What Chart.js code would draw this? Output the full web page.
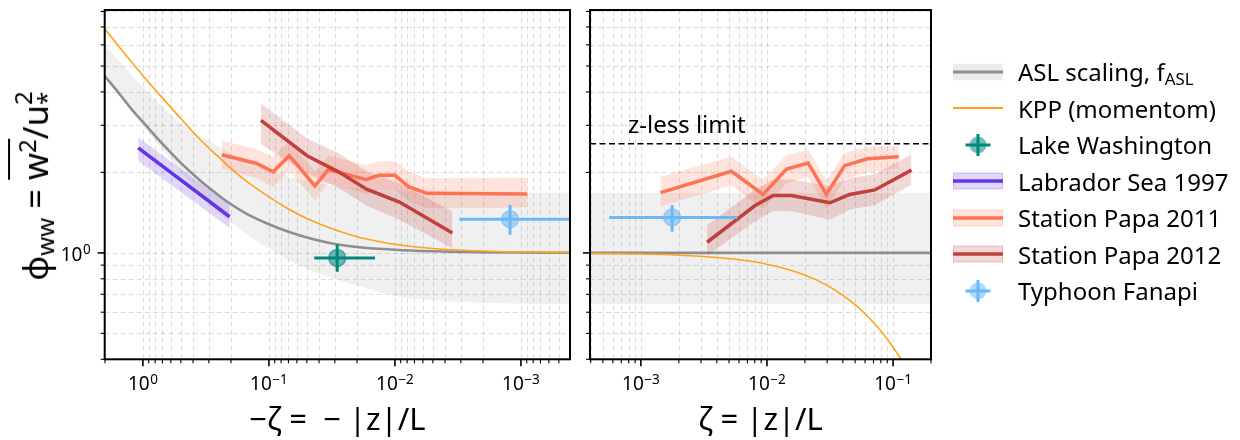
<!DOCTYPE html>
<html><head><meta charset="utf-8">
<script src="https://cdn.jsdelivr.net/npm/chart.js@4.4.1/dist/chart.umd.min.js"></script>
<style>
html,body{margin:0;padding:0;background:#fff;}
body{width:1240px;height:440px;position:relative;overflow:hidden;font-family:'Noto Sans','Open Sans',sans-serif;color:#000;}
#cL,#cR{position:absolute;top:0;}
#cL{left:0;} #cR{left:575px;}
#ylab{position:absolute;left:35px;top:186px;transform:translate(-50%,-50%) rotate(-90deg);font-size:34.5px;white-space:nowrap;line-height:1.2;z-index:2;}
#ylab sub,#ylab sup{font-size:0.7em;line-height:0;}
#ylab sub{vertical-align:-0.28em;}
#ylab sup{vertical-align:0.5em;}
.ov{border-top:2px solid #000;padding-top:1px;}
.st{display:inline-flex;flex-direction:column;font-size:0.7em;line-height:0.95;vertical-align:0.65em;}
#legend{position:absolute;left:952px;top:0;width:288px;height:440px;z-index:2;}
.row{position:absolute;left:0;height:36px;display:flex;align-items:center;white-space:nowrap;font-size:24px;}
.row canvas{display:block;margin-right:14px;}
.row sub{font-size:0.7em;vertical-align:-0.25em;line-height:0;}
</style></head>
<body>
<canvas id="cL" width="585" height="440"></canvas>
<canvas id="cR" width="370" height="440"></canvas>
<div id="ylab">ϕ<sub>ww</sub> = <span class="ov">w<sup>2</sup></span>/u<span class="st"><span>2</span><span>*</span></span></div>
<div id="legend"></div>
<script>
// ================= DATA =================
// left panel: unstable side, x = -zeta
const leftZeta      = [2.01, 1.5, 1.2, 1, 0.85, 0.7, 0.5, 0.35, 0.25, 0.2, 0.15, 0.1, 0.07, 0.05, 0.03, 0.02, 0.01, 0.005, 0.002, 0.001, 0.0004];
const aslLeft       = [4.59, 3.88, 3.40, 3.09, 2.83, 2.56, 2.17, 1.86, 1.64, 1.52, 1.40, 1.28, 1.20, 1.143, 1.08, 1.052, 1.027, 1.014, 1.006, 1.003, 1.001];
const aslLeftUpper  = [6.02, 5.14, 4.56, 4.17, 3.85, 3.52, 3.05, 2.74, 2.50, 2.36, 2.20, 2.03, 1.93, 1.85, 1.78, 1.75, 1.712, 1.696, 1.686, 1.683, 1.68];
const aslLeftLower  = [4.55, 3.83, 3.34, 2.99, 2.72, 2.43, 2.01, 1.66, 1.41, 1.31, 1.17, 1.04, 0.94, 0.87, 0.80, 0.755, 0.69, 0.665, 0.651, 0.646, 0.643];
const kppLeft       = [6.89, 5.80, 5.10, 4.60, 4.22, 3.80, 3.18, 2.65, 2.28, 2.07, 1.85, 1.62, 1.46, 1.345, 1.22, 1.15, 1.077, 1.039, 1.016, 1.008, 1.003];

const labradorZeta  = [1.09, 0.205];
const labradorPhi   = [2.47, 1.365];
const labradorUpper = [2.71, 1.51];
const labradorLower = [2.21, 1.24];

const papa11LeftZeta  = [0.237, 0.125, 0.0925, 0.069, 0.0431, 0.0338, 0.0168, 0.0135, 0.0100, 0.0078, 0.0056, 0.00089];
const papa11LeftPhi   = [2.33, 2.16, 2.01, 2.31, 1.78, 2.05, 1.88, 1.95, 1.95, 1.77, 1.67, 1.66];
const papa11LeftUpper = [2.63, 2.44, 2.28, 2.62, 2.02, 2.31, 2.13, 2.20, 2.20, 2.01, 1.90, 1.91];
const papa11LeftLower = [2.07, 1.90, 1.76, 2.03, 1.57, 1.82, 1.66, 1.72, 1.72, 1.56, 1.47, 1.48];

const papa12LeftZeta  = [0.1157, 0.0498, 0.028, 0.0168, 0.0092, 0.0035];
const papa12LeftPhi   = [3.13, 2.31, 2.01, 1.73, 1.55, 1.186];
const papa12LeftUpper = [3.62, 2.68, 2.36, 2.02, 1.82, 1.43];
const papa12LeftLower = [2.55, 1.98, 1.75, 1.50, 1.33, 1.04];

const lakeZeta    = [0.0287];
const lakePhi     = [0.958];
const lakeZetaErr = [0.0144, 0.0437];
const lakePhiErr  = [0.85, 1.074];

const fanapiLeftZeta    = [0.00122];
const fanapiLeftPhi     = [1.337];
const fanapiLeftZetaErr = [0.00030, 0.00309];
const fanapiLeftPhiErr  = [1.17, 1.51];

// right panel: stable side, x = zeta
const aslRightZeta  = [3.95e-4, 0.2];
const aslRight      = [1, 1];
const aslRightUpper = [1.68, 1.68];
const aslRightLower = [0.643, 0.643];
const zlessZeta     = [3.95e-4, 0.2];
const zlessPhi      = [2.56, 2.56];

const kppRightZeta = [3.95e-4, 1e-3, 2e-3, 4e-3, 7e-3, 0.01, 0.015, 0.02, 0.03, 0.04, 0.05, 0.06, 0.07, 0.085, 0.1, 0.12];
const kppRight     = [0.996, 0.990, 0.980, 0.961, 0.934, 0.907, 0.865, 0.826, 0.756, 0.694, 0.640, 0.592, 0.549, 0.493, 0.444, 0.391];

const papa11RightZeta  = [1.43e-3, 5.23e-3, 9.31e-3, 0.0143, 0.0212, 0.0296, 0.0413, 0.0625, 0.111];
const papa11RightPhi   = [1.68, 2.02, 1.655, 2.06, 2.17, 1.655, 2.12, 2.25, 2.29];
const papa11RightUpper = [1.93, 2.29, 1.88, 2.32, 2.43, 1.87, 2.37, 2.49, 2.51];
const papa11RightLower = [1.49, 1.79, 1.46, 1.82, 1.92, 1.46, 1.88, 2.00, 2.07];

const papa12RightZeta  = [3.35e-3, 8.0e-3, 0.0112, 0.0156, 0.0316, 0.0453, 0.0716, 0.140];
const papa12RightPhi   = [1.096, 1.50, 1.64, 1.64, 1.54, 1.655, 1.72, 2.04];
const papa12RightUpper = [1.27, 1.72, 1.88, 1.88, 1.78, 1.90, 1.97, 2.34];
const papa12RightLower = [0.975, 1.31, 1.43, 1.43, 1.33, 1.45, 1.51, 1.80];

const fanapiRightZeta    = [0.00177];
const fanapiRightPhi     = [1.356];
const fanapiRightZetaErr = [0.00056, 0.00584];
const fanapiRightPhiErr  = [1.20, 1.51];

// ticks (labels written as base^exponent)
const leftTickValues  = [1, 0.1, 0.01, 0.001];
const leftTickLabels  = ['10^0', '10^−1', '10^−2', '10^−3'];
const rightTickValues = [0.001, 0.01, 0.1];
const rightTickLabels = ['10^−3', '10^−2', '10^−1'];
const yTickValues     = [1];
const yTickLabels     = ['10^0'];

const zlessText = 'z-less limit';
const zlessTextAt = [7.9e-4, 2.80];

const legendLabels = ['ASL scaling, f<sub>ASL</sub>', 'KPP (momentom)', 'Lake Washington', 'Labrador Sea 1997', 'Station Papa 2011', 'Station Papa 2012', 'Typhoon Fanapi'];

// ================= STYLE =================
const FONT = "'Noto Sans', 'Open Sans', sans-serif";
const C = {
  asl: '#8e8e8e', aslBand: 'rgba(128,128,128,0.12)',
  kpp: '#ffa31f',
  lake: '#00897b', lakeFill: 'rgba(0,137,123,0.55)',
  lab: '#6236e0', labBand: 'rgba(98,54,224,0.2)',
  p11: '#ff7355', p11Band: 'rgba(255,115,85,0.2)',
  p12: '#c0413b', p12Band: 'rgba(192,65,59,0.2)',
  fan: '#6cb8f6', fanFill: 'rgba(108,184,246,0.55)'
};

const P = (xs, ys) => xs.map((x, i) => ({x: x, y: ys[i]}));
function lineDS(data, color, width, order, extra) {
  return Object.assign({data: data, borderColor: color, borderWidth: width, pointRadius: 0, fill: false, order: order, tension: 0}, extra || {});
}
function bandDS(xs, lo, hi, color, order, smooth) {
  const base = {pointRadius: 0, borderWidth: 0, borderColor: 'rgba(0,0,0,0)', order: order, cubicInterpolationMode: smooth ? 'monotone' : 'default'};
  return [Object.assign({data: P(xs, lo), fill: false}, base),
          Object.assign({data: P(xs, hi), fill: '-1', backgroundColor: color}, base)];
}
function errDS(cx, cy, xe, ye, color, order) {
  return [lineDS([{x: xe[0], y: cy[0]}, {x: xe[1], y: cy[0]}], color, 3, order),
          lineDS([{x: cx[0], y: ye[0]}, {x: cx[0], y: ye[1]}], color, 3, order)];
}
function markerDS(cx, cy, fill, edge, order) {
  return {data: P(cx, cy), showLine: false, pointRadius: 8.5, pointHoverRadius: 8.5, pointBackgroundColor: fill, pointBorderColor: edge, pointBorderWidth: 1.5, order: order};
}

function tickList(min, max) {
  const out = [];
  for (let e = -5; e <= 1; e++) for (let m = 1; m <= 9; m++) {
    const v = m * Math.pow(10, e);
    if (v >= min * 0.999 && v <= max * 1.001) out.push(v);
  }
  return out;
}
const isPow10 = v => Math.abs(Math.log10(v) - Math.round(Math.log10(v))) < 1e-6;

// draws "base" + raised exponent; anchor: 'center' (x axis) or 'right' (y axis)
function drawPowerLabel(ctx, label, x, baseY, anchor) {
  const parts = label.split('^');
  ctx.font = '19px ' + FONT; const wb = ctx.measureText(parts[0]).width;
  ctx.font = '13.5px ' + FONT; const we = ctx.measureText(parts[1]).width;
  const w = wb + we + 0.5;
  const x0 = anchor === 'center' ? x - w / 2 : x - w;
  ctx.textAlign = 'left'; ctx.textBaseline = 'alphabetic';
  ctx.font = '19px ' + FONT; ctx.fillText(parts[0], x0, baseY);
  ctx.font = '13.5px ' + FONT; ctx.fillText(parts[1], x0 + wb + 0.5, baseY - 6.8);
}

const decor = {
  id: 'decor',
  beforeDatasetsDraw(chart) {
    const {ctx, chartArea: a} = chart; const xs = chart.scales.x, ys = chart.scales.y;
    ctx.save();
    ctx.beginPath(); ctx.rect(a.left, a.top, a.right - a.left, a.bottom - a.top); ctx.clip();
    ctx.strokeStyle = 'rgba(0,0,0,0.13)'; ctx.lineWidth = 1; ctx.setLineDash([5, 3]);
    ctx.beginPath();
    tickList(xs.min, xs.max).forEach(v => { const p = Math.round(xs.getPixelForValue(v)) + 0.5; ctx.moveTo(p, a.top); ctx.lineTo(p, a.bottom); });
    tickList(ys.min, ys.max).forEach(v => { const p = Math.round(ys.getPixelForValue(v)) + 0.5; ctx.moveTo(a.left, p); ctx.lineTo(a.right, p); });
    ctx.stroke();
    ctx.restore();
  },
  afterDatasetsDraw(chart, args, opts) {
    const {ctx, chartArea: a} = chart; const xs = chart.scales.x, ys = chart.scales.y;
    ctx.save(); ctx.setLineDash([]); ctx.strokeStyle = '#000'; ctx.fillStyle = '#000';
    tickList(xs.min, xs.max).forEach(v => {
      const mj = isPow10(v); const p = xs.getPixelForValue(v);
      ctx.lineWidth = mj ? 1.6 : 1.1; ctx.beginPath(); ctx.moveTo(p, a.bottom); ctx.lineTo(p, a.bottom + (mj ? 7 : 4)); ctx.stroke();
    });
    tickList(ys.min, ys.max).forEach(v => {
      const mj = isPow10(v); const p = ys.getPixelForValue(v);
      ctx.lineWidth = mj ? 1.6 : 1.1; ctx.beginPath(); ctx.moveTo(a.left, p); ctx.lineTo(a.left - (mj ? 7 : 4), p); ctx.stroke();
    });
    ctx.lineWidth = 2; ctx.strokeRect(a.left, a.top, a.right - a.left, a.bottom - a.top);
    // tick labels
    opts.xValues.forEach((v, i) => drawPowerLabel(ctx, opts.xLabels[i], xs.getPixelForValue(v), a.bottom + 31, 'center'));
    if (opts.yLabels) opts.yValues.forEach((v, i) => drawPowerLabel(ctx, opts.yLabels[i], a.left - 14, ys.getPixelForValue(v) + 8, 'right'));
    if (opts.text) {
      ctx.fillStyle = '#000'; ctx.font = '24px ' + FONT; ctx.textAlign = 'left'; ctx.textBaseline = 'alphabetic';
      ctx.fillText(opts.text, xs.getPixelForValue(opts.textAt[0]), ys.getPixelForValue(opts.textAt[1]));
    }
    ctx.restore();
  }
};

function zeroPad(s) { s.paddingTop = 0; s.paddingBottom = 0; s.paddingLeft = 0; s.paddingRight = 0; }
function yScale(width) {
  return {
    type: 'logarithmic', min: 0.4, max: 8.1,
    afterFit: s => { s.width = width; zeroPad(s); },
    ticks: {display: false},
    grid: {display: false, drawTicks: false}, border: {display: false}
  };
}
function xScale(min, max, reverse, title) {
  return {
    type: 'logarithmic', min: min, max: max, reverse: reverse,
    afterFit: s => { s.height = 80.7; zeroPad(s); },
    ticks: {display: false},
    grid: {display: false, drawTicks: false}, border: {display: false},
    title: {display: true, text: title, color: '#000', font: {size: 31, family: FONT}, padding: {top: 0, bottom: 0}}
  };
}
const common = (ds, xs, ys, pad, decorOpts) => ({
  type: 'line',
  data: {datasets: ds},
  options: {
    responsive: false, animation: false, events: [],
    layout: {padding: pad},
    plugins: {legend: {display: false}, tooltip: {enabled: false}, decor: decorOpts},
    scales: {x: xs, y: ys}
  },
  plugins: [decor]
});

// ---------- left chart ----------
const leftDS = [].concat(
  [markerDS(fanapiLeftZeta, fanapiLeftPhi, C.fanFill, C.fanFill, 1)],
  errDS(fanapiLeftZeta, fanapiLeftPhi, fanapiLeftZetaErr, fanapiLeftPhiErr, C.fan, 2),
  [markerDS(lakeZeta, lakePhi, C.lakeFill, C.lakeFill, 1)],
  errDS(lakeZeta, lakePhi, lakeZetaErr, lakePhiErr, C.lake, 2),
  [lineDS(P(papa12LeftZeta, papa12LeftPhi), C.p12, 3.5, 3)],
  [lineDS(P(papa11LeftZeta, papa11LeftPhi), C.p11, 3.5, 4)],
  [lineDS(P(labradorZeta, labradorPhi), C.lab, 3.5, 4)],
  bandDS(papa12LeftZeta, papa12LeftLower, papa12LeftUpper, C.p12Band, 5, false),
  bandDS(papa11LeftZeta, papa11LeftLower, papa11LeftUpper, C.p11Band, 6, false),
  bandDS(labradorZeta, labradorLower, labradorUpper, C.labBand, 6, false),
  [lineDS(P(leftZeta, kppLeft), C.kpp, 1.6, 7, {cubicInterpolationMode: 'monotone'})],
  [lineDS(P(leftZeta, aslLeft), C.asl, 2.6, 8, {cubicInterpolationMode: 'monotone'})],
  bandDS(leftZeta, aslLeftLower, aslLeftUpper, C.aslBand, 9, true)
);
new Chart(document.getElementById('cL'), common(
  leftDS,
  xScale(4.08e-4, 2.01, true, '−ζ =  − |z|/L'),
  yScale(104.7),
  {left: 0, right: 15, top: 7.3, bottom: 0},
  {xValues: leftTickValues, xLabels: leftTickLabels, yValues: yTickValues, yLabels: yTickLabels}
));

// ---------- right chart ----------
const rightDS = [].concat(
  [markerDS(fanapiRightZeta, fanapiRightPhi, C.fanFill, C.fanFill, 1)],
  errDS(fanapiRightZeta, fanapiRightPhi, fanapiRightZetaErr, fanapiRightPhiErr, C.fan, 2),
  [lineDS(P(papa12RightZeta, papa12RightPhi), C.p12, 3.5, 3)],
  [lineDS(P(papa11RightZeta, papa11RightPhi), C.p11, 3.5, 4)],
  bandDS(papa12RightZeta, papa12RightLower, papa12RightUpper, C.p12Band, 5, false),
  bandDS(papa11RightZeta, papa11RightLower, papa11RightUpper, C.p11Band, 6, false),
  [lineDS(P(zlessZeta, zlessPhi), '#000', 1.6, 6, {borderDash: [6, 3.5]})],
  [lineDS(P(kppRightZeta, kppRight), C.kpp, 1.6, 7, {cubicInterpolationMode: 'monotone'})],
  [lineDS(P(aslRightZeta, aslRight), C.asl, 2.6, 8)],
  bandDS(aslRightZeta, aslRightLower, aslRightUpper, C.aslBand, 9, false)
);
new Chart(document.getElementById('cR'), common(
  rightDS,
  xScale(3.95e-4, 0.2, false, 'ζ = |z|/L'),
  yScale(15),
  {left: 0, right: 14, top: 7.3, bottom: 0},
  {xValues: rightTickValues, xLabels: rightTickLabels, yValues: yTickValues, yLabels: null, text: zlessText, textAt: zlessTextAt}
));

// ---------- legend ----------
function drawHandle(cv, kind) {
  const g = cv.getContext('2d'); const w = cv.width, h = cv.height, cy = h / 2;
  const bandLine = (band, line) => { g.fillStyle = band; g.fillRect(1, cy - 8.3, w - 2, 16.6); g.strokeStyle = band; g.lineWidth = 1; g.strokeRect(1.5, cy - 7.8, w - 3, 15.6); g.strokeStyle = line; g.lineWidth = 3.5; g.beginPath(); g.moveTo(1, cy); g.lineTo(w - 1, cy); g.stroke(); };
  const marker = (fill, line) => { const cx = w / 2; g.fillStyle = fill; g.beginPath(); g.arc(cx, cy, 8.5, 0, 2 * Math.PI); g.fill(); g.strokeStyle = line; g.lineWidth = 3; g.beginPath(); g.moveTo(cx - 12.5, cy); g.lineTo(cx + 12.5, cy); g.moveTo(cx, cy - 11); g.lineTo(cx, cy + 11); g.stroke(); };
  if (kind === 0) { g.fillStyle = 'rgba(128,128,128,0.14)'; g.fillRect(1, cy - 8.3, w - 2, 16.6); g.strokeStyle = C.asl; g.lineWidth = 3; g.beginPath(); g.moveTo(1, cy); g.lineTo(w - 1, cy); g.stroke(); }
  if (kind === 1) { g.strokeStyle = C.kpp; g.lineWidth = 1.8; g.beginPath(); g.moveTo(1, cy); g.lineTo(w - 1, cy); g.stroke(); }
  if (kind === 2) marker(C.lakeFill, C.lake);
  if (kind === 3) bandLine(C.labBand, C.lab);
  if (kind === 4) bandLine(C.p11Band, C.p11);
  if (kind === 5) bandLine(C.p12Band, C.p12);
  if (kind === 6) marker(C.fanFill, C.fan);
}
const leg = document.getElementById('legend');
legendLabels.forEach((lab, i) => {
  const row = document.createElement('div'); row.className = 'row';
  row.style.top = (71.7 + i * 36.5 - 18) + 'px';
  const cv = document.createElement('canvas'); cv.width = 52; cv.height = 26;
  drawHandle(cv, i);
  const sp = document.createElement('span'); sp.innerHTML = lab;
  row.appendChild(cv); row.appendChild(sp); leg.appendChild(row);
});
</script>
</body></html>
